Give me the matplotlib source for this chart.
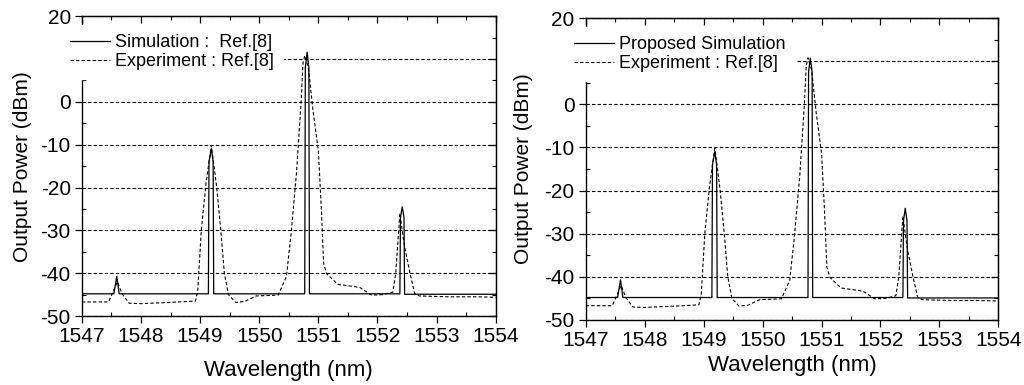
import matplotlib
matplotlib.use("Agg")
import matplotlib.pyplot as plt
from matplotlib.ticker import MultipleLocator

plt.rcParams['font.family'] = ['Liberation Sans', 'DejaVu Sans']
plt.rcParams['axes.unicode_minus'] = False

# --- DATA ---
# experiment (dashed), same trace in both panels
exp_x = [1547.0, 1547.45, 1547.52, 1547.6, 1547.68, 1547.8, 1548.0, 1548.5, 1548.92,
         1548.96, 1549.02, 1549.1, 1549.19, 1549.28, 1549.35, 1549.41, 1549.48, 1549.6,
         1549.75, 1549.95, 1550.32, 1550.46, 1550.54, 1550.63, 1550.71, 1550.74, 1550.77,
         1550.83, 1550.91, 1551.0, 1551.05, 1551.09, 1551.14, 1551.33, 1551.7, 1551.9,
         1552.09, 1552.26, 1552.31, 1552.38, 1552.45, 1552.54, 1552.63, 1552.71, 1553.2,
         1553.7, 1554.0]
exp_y = [-46.7, -46.7, -44.5, -42.0, -44.8, -47.0, -47.1, -46.8, -46.5,
         -44.0, -30.0, -19.0, -10.2, -19.9, -30.0, -40.0, -45.0, -46.8,
         -46.6, -45.3, -45.1, -40.8, -30.7, -16.7, 0.3, 8.9, 10.8,
         8.1, -2.0, -11.3, -24.5, -37.7, -40.1, -42.6, -43.3, -45.1,
         -45.0, -44.4, -40.0, -26.0, -33.0, -39.3, -44.7, -45.3, -45.5,
         -45.5, -45.6]

# simulation (solid)
sim_x = [1547.0, 1547.54, 1547.59, 1547.63, 1549.14, 1549.15, 1549.19, 1549.22, 1549.23,
         1550.77, 1550.78, 1550.81, 1550.84, 1550.85, 1552.38, 1552.39, 1552.42, 1552.45,
         1552.46, 1554.0]
sim_left = [-44.8, -44.8, -40.7, -44.8, -44.8, -14.0, -10.9, -14.0, -44.8,
            -44.8, 8.0, 11.6, 8.0, -44.8, -44.8, -27.0, -24.5, -27.0,
            -44.9, -44.9]
sim_right = [-44.8, -44.8, -40.7, -44.8, -44.8, -14.0, -11.0, -14.0, -44.8,
             -44.8, 7.5, 10.7, 7.5, -44.8, -44.8, -27.0, -24.1, -27.0,
             -44.9, -44.9]

y_ticks = [-50, -40, -30, -20, -10, 0, 10, 20]
y_ticklabels = ['-50', '-40', '-30', '-20', '-10', '0', '', '20']
x_ticks = [1547, 1548, 1549, 1550, 1551, 1552, 1553, 1554]

# rect, sim data, legend label, xlabel y, ylabel x (axes fraction)
panels = [
    ([0.080, 0.179, 0.404, 0.779], sim_left, 'Simulation :  Ref.[8]', -0.147, -0.12),
    ([0.572, 0.169, 0.403, 0.784], sim_right, 'Proposed Simulation', -0.117, -0.128),
]

fig = plt.figure(figsize=(10.24, 3.85), dpi=100)

for rect, sim_y, sim_label, xl_y, yl_x in panels:
    ax = fig.add_axes(rect)
    ax.plot(sim_x, sim_y, color='black', linewidth=0.9, label=sim_label)
    ax.plot(exp_x, exp_y, color='black', linewidth=0.8, linestyle=(0, (3, 2)),
            label='Experiment : Ref.[8]')

    ax.set_xlim(1547, 1554)
    ax.set_ylim(-50, 20)
    ax.set_xticks(x_ticks)
    ax.set_xticklabels([str(v) for v in x_ticks])
    ax.set_yticks(y_ticks)
    ax.set_yticklabels(y_ticklabels)
    ax.xaxis.set_minor_locator(MultipleLocator(0.5))
    ax.yaxis.set_minor_locator(MultipleLocator(5))
    ax.tick_params(which='major', direction='out', length=5, width=0.9, pad=3, labelsize=15)
    ax.tick_params(which='minor', direction='in', length=3, width=0.8)

    # top / right ticks pointing inward
    secx = ax.secondary_xaxis('top')
    secx.set_xticks(x_ticks)
    secx.xaxis.set_minor_locator(MultipleLocator(0.5))
    secx.tick_params(which='major', direction='in', length=5, width=0.9, labeltop=False)
    secx.tick_params(which='minor', direction='in', length=3, width=0.8)
    secy = ax.secondary_yaxis('right')
    secy.set_yticks(y_ticks)
    secy.yaxis.set_minor_locator(MultipleLocator(5))
    secy.tick_params(which='major', direction='in', length=5, width=0.9, labelright=False)
    secy.tick_params(which='minor', direction='in', length=3, width=0.8)

    for sp in ax.spines.values():
        sp.set_linewidth(1.0)

    ax.grid(axis='y', color='black', linestyle=(0, (3, 2)), linewidth=0.8)
    ax.set_axisbelow(True)

    ax.set_xlabel('Wavelength (nm)', fontsize=16)
    ax.set_ylabel('Output Power (dBm)', fontsize=15)
    ax.xaxis.set_label_coords(0.5, xl_y)
    ax.yaxis.set_label_coords(yl_x, 0.5)

    leg = ax.legend(loc='upper left', bbox_to_anchor=(-0.05, 0.969), fontsize=13,
                    frameon=True, fancybox=False, framealpha=1, edgecolor='white',
                    handlelength=2.2, handletextpad=0.3, labelspacing=0.1,
                    borderpad=0.5, borderaxespad=0)
    leg.set_zorder(5)

fig.savefig('out.png', dpi=100)
